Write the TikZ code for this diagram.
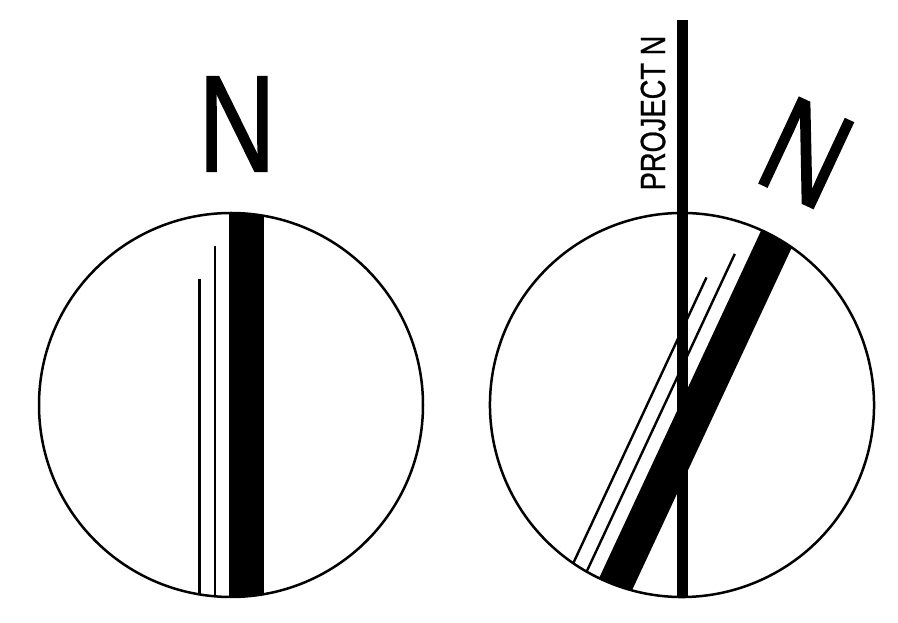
\documentclass[tikz,border=0pt]{standalone}
\usepackage{fontspec}
\setmainfont{Liberation Sans}
\newfontfamily\heavyN[FakeBold=1.4]{Liberation Sans}
\newfontfamily\heavyT[FakeBold=0.8]{Liberation Sans}
\usepackage{graphicx}
\tikzset{
  rim/.style={line width=2.5pt,draw=black},
  thinline/.style={line width=2.4pt,line cap=butt},
  bigN/.style={inner sep=0pt,transform shape,font=\heavyN\fontsize{137}{137}\selectfont},
}
\newcommand{\compassfig}{%
  \begin{scope}
    \clip (0,0) circle (192);
    \fill[black] (-2,-200) rectangle (33,200);
    \draw[thinline] (-31.7,126) -- (-31.7,-200);
    \draw[thinline] (-16,159.3) -- (-16,-200);
  \end{scope}
  \draw[rim] (0,0) circle (192);
  \node[bigN] at (6,281) {\scalebox{0.78}[1]{N}};
}
\begin{document}
\begin{tikzpicture}[x=1pt,y=1pt]
\useasboundingbox (0,0) rectangle (898,623);
% left compass
\begin{scope}[shift={(231,218)}]
  \compassfig
\end{scope}
% right compass (rotated)
\begin{scope}[shift={(682,218)},rotate=-25]
  \compassfig
\end{scope}
% project north line
\coordinate (ptop) at (682.5,603);
\coordinate (pbot) at (682.5,26);
\draw[line width=11pt] (ptop) -- (pbot);
\node[rotate=90,inner sep=0pt,font=\heavyT\fontsize{35}{35}\selectfont] (ptext) at (653,510) {\scalebox{0.78}[1]{PROJECT N}};
\end{tikzpicture}
\end{document}
